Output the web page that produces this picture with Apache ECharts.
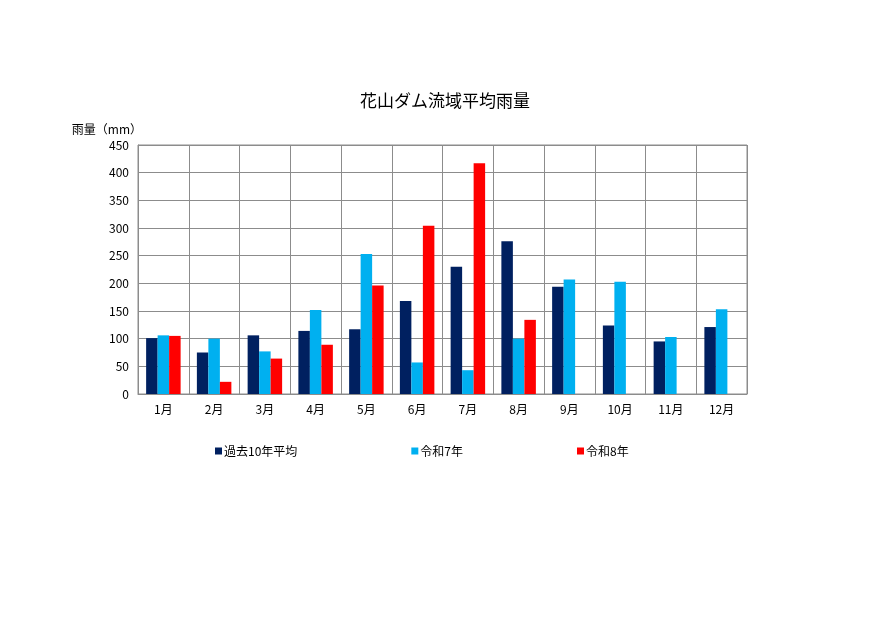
<!DOCTYPE html>
<html>
<head>
<meta charset="utf-8">
<script src="https://cdn.jsdelivr.net/npm/echarts@6/dist/echarts.min.js"></script>
<style>
  html, body { margin: 0; padding: 0; background: #fff; }
  #chart { width: 890px; height: 630px; }
</style>
</head>
<body>
<div id="chart"></div>
<script>
// 花山ダム流域平均雨量 - monthly rainfall (mm)

const months = ['1月', '2月', '3月', '4月', '5月', '6月', '7月', '8月', '9月', '10月', '11月', '12月'];
const avg10y = [101, 75, 106, 114, 117, 168, 230, 276, 194, 124, 95, 121];
const reiwa7 = [106, 100, 77, 152, 253, 57, 43, 100, 207, 203, 103, 153];
const reiwa8 = [105, 22, 64, 89, 196, 304, 417, 134, null, null, null, null];
const yTicks = { min: 0, max: 450, interval: 50 };

const labelFont = '"Liberation Sans Narrow", "Noto Sans CJK JP", sans-serif';

const chart = echarts.init(document.getElementById('chart'));

chart.setOption({
    backgroundColor: '#fff',
    animation: false,
    title: {
        text: '花山ダム流域平均雨量',
        left: 'center',
        top: 87,
        textStyle: {
            color: '#000',
            fontSize: 17,
            fontWeight: 'normal',
            fontFamily: '"Noto Sans CJK JP", sans-serif'
        }
    },
    legend: {
        left: 210,
        top: 440,
        itemWidth: 7,
        itemHeight: 7,
        itemGap: 114,
        icon: 'rect',
        textStyle: { color: '#000', fontSize: 12, fontFamily: labelFont, padding: [0, 0, 0, -3] },
        data: ['過去10年平均', '令和7年', '令和8年']
    },
    grid: {
        left: 138,
        right: 143,
        top: 145,
        bottom: 236,
        show: true,
        borderColor: '#8c8c8c',
        borderWidth: 1
    },
    xAxis: {
        type: 'category',
        data: months,
        axisLine: { lineStyle: { color: '#8c8c8c' } },
        axisTick: { show: false },
        splitLine: { show: true, lineStyle: { color: '#8c8c8c' } },
        axisLabel: { color: '#000', fontSize: 12, fontFamily: labelFont, margin: 9 }
    },
    yAxis: {
        type: 'value',
        min: yTicks.min,
        max: yTicks.max,
        interval: yTicks.interval,
        name: '雨量（mm）',
        nameLocation: 'end',
        nameGap: 10,
        nameTextStyle: { color: '#000', fontSize: 12, fontFamily: labelFont, align: 'right', padding: [0, -4, 0, 0] },
        axisLine: { show: true, lineStyle: { color: '#8c8c8c' } },
        axisTick: { show: false },
        splitLine: { lineStyle: { color: '#8c8c8c' } },
        axisLabel: { color: '#000', fontSize: 12, fontFamily: labelFont, margin: 9 }
    },
    series: [
        { name: '過去10年平均', type: 'bar', data: avg10y, barWidth: 11.5, barGap: '0%', itemStyle: { color: '#002060' } },
        { name: '令和7年', type: 'bar', data: reiwa7, barWidth: 11.5, barGap: '0%', itemStyle: { color: '#00b0f0' } },
        { name: '令和8年', type: 'bar', data: reiwa8, barWidth: 11.5, barGap: '0%', itemStyle: { color: '#ff0000' } }
    ]
});
</script>
</body>
</html>
